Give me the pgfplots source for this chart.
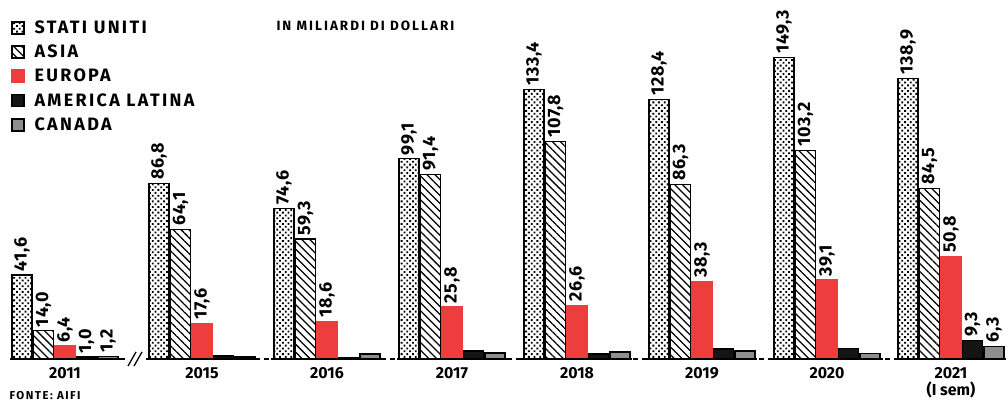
\documentclass[border=0pt]{standalone}
\usepackage{pgfplots}
\pgfplotsset{compat=1.18}
\usetikzlibrary{patterns.meta}
\usepackage{fontspec}
\setmainfont{Fira Sans}
\newfontfamily\legfont[LetterSpace=13]{Fira Sans}
\newfontfamily\valfont[LetterSpace=4]{Fira Sans}
\newfontfamily\titfont[LetterSpace=15]{Fira Sans}
\definecolor{eured}{HTML}{EE3D3D}
\definecolor{latblack}{HTML}{141414}
\definecolor{cangray}{HTML}{8E8E8E}
\begin{document}
\begin{tikzpicture}
\useasboundingbox (0,0) rectangle (1008bp,405bp);
\fill[white] (0,0) rectangle (1008bp,405bp);
\begin{axis}[
  at={(0bp,46bp)}, anchor=south west,
  scale only axis, width=1008bp, height=359bp,
  xmin=0, xmax=1008, ymin=0, ymax=177.7,
  clip=false,
  axis line style={draw=none},
  ytick=\empty,
  xtick={65,202,327,452,577,702,827,951},
  xticklabels={2011,2015,2016,2017,2018,2019,2020,{2021\\(I sem)}},
  xticklabel style={align=center, font=\bfseries\fontsize{16}{17}\selectfont, yshift=-5bp},
  major tick length=0pt,
  ybar, bar width=20,
  every axis plot/.append style={line width=1.4bp},
  nodes near coords,
  point meta=explicit symbolic,
  every node near coord/.append style={rotate=90, anchor=west, inner sep=3bp,
     font=\valfont\bfseries\fontsize{18}{18}\selectfont, text=black},
  legend image code/.code={\draw[#1, line width=1.8bp] (0bp,-6bp) rectangle (12bp,6bp); \path[draw=none,fill=none,pattern=none] (0bp,0bp) rectangle (21bp,0.1bp);},
  legend style={at={(0.0,1.0)}, anchor=north west, xshift=8bp, yshift=-17bp, draw=none, fill=none,
     font=\legfont\bfseries\fontsize{18}{18}\selectfont, row sep=7bp,
     nodes={inner sep=1.5bp}},
  legend cell align=left,
]
\addplot[draw=black, pattern={Dots[radius=1.3bp, distance=4bp, angle=45]}, bar shift=-43]
 coordinates {(65,41.6)[41,6] (202,86.8)[86,8] (327,74.6)[74,6] (452,99.1)[99,1]
              (577,133.4)[133,4] (702,128.4)[128,4] (827,149.3)[149,3] (951,138.9)[138,9]};
\addlegendentry{STATI UNITI}
\addplot[draw=black, pattern={Lines[angle=-45, distance=5.6bp, line width=1.25bp]}, bar shift=-21.5]
 coordinates {(65,14.0)[14,0] (202,64.1)[64,1] (327,59.3)[59,3] (452,91.4)[91,4]
              (577,107.8)[107,8] (702,86.3)[86,3] (827,103.2)[103,2] (951,84.5)[84,5]};
\addlegendentry{ASIA}
\addplot[draw=eured, fill=eured, bar shift=0]
 coordinates {(65,6.4)[6,4] (202,17.6)[17,6] (327,18.6)[18,6] (452,25.8)[25,8]
              (577,26.6)[26,6] (702,38.3)[38,3] (827,39.1)[39,1] (951,50.8)[50,8]};
\addlegendentry{EUROPA}
\addplot[draw=black, fill=latblack, bar shift=21.5]
 coordinates {(65,1.0)[1,0] (202,1.5)[{}] (327,0.8)[{}] (452,4.0)[{}]
              (577,2.5)[{}] (702,5.0)[{}] (827,5.2)[{}] (951,9.3)[9,3]};
\addlegendentry{AMERICA LATINA}
\addplot[draw=black, fill=cangray, bar shift=43]
 coordinates {(65,1.2)[1,2] (202,1.0)[{}] (327,2.5)[{}] (452,3.0)[{}]
              (577,3.5)[{}] (702,4.0)[{}] (827,2.8)[{}] (951,6.3)[6,3]};
\addlegendentry{CANADA}
% baseline
\draw[black, line width=1.5bp, dash pattern=on 5bp off 4bp] (axis cs:120,0) -- (axis cs:1006,0);
\draw[black, line width=1.5bp] (axis cs:10,0) -- (axis cs:122,0);
\draw[black, line width=1.5bp] (axis cs:146,0) -- (axis cs:256,0);
\draw[black, line width=1.5bp] (axis cs:271,0) -- (axis cs:386,0);
\draw[black, line width=1.5bp] (axis cs:397,0) -- (axis cs:507,0);
\draw[black, line width=1.5bp] (axis cs:521,0) -- (axis cs:632,0);
\draw[black, line width=1.5bp] (axis cs:647,0) -- (axis cs:757,0);
\draw[black, line width=1.5bp] (axis cs:772,0) -- (axis cs:883,0);
\draw[black, line width=1.5bp] (axis cs:896,0) -- (axis cs:1006,0);
\fill[white] (axis cs:126,-1.5) rectangle (axis cs:144,1.5);
\draw[black, line width=1.3bp] (axis cs:128,-3.5) -- (axis cs:136,3.5);
\draw[black, line width=1.3bp] (axis cs:134,-3.5) -- (axis cs:142,3.5);
\end{axis}
\node[anchor=west, font=\titfont\bfseries\fontsize{13.5}{14}\selectfont] at (273bp,379bp) {IN MILIARDI DI DOLLARI};
\node[anchor=west, font=\legfont\bfseries\fontsize{11.5}{12}\selectfont] at (6bp,9bp) {FONTE: AIFI};
\end{tikzpicture}
\end{document}
